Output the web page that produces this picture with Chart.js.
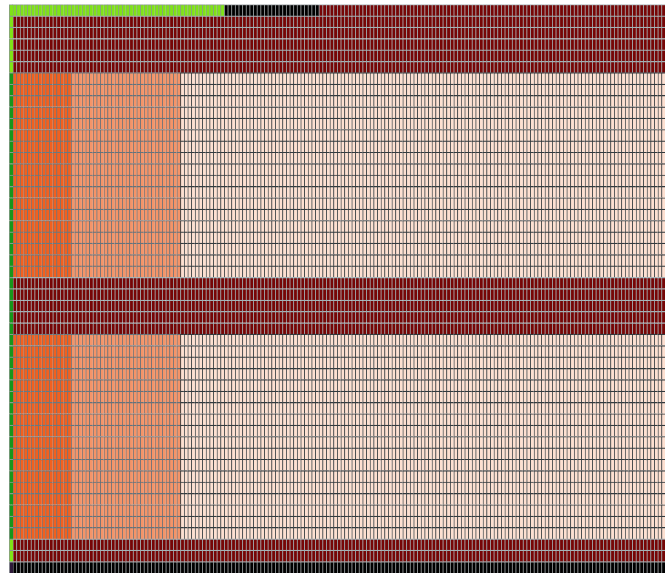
<!DOCTYPE html>
<html>
<head>
<meta charset="utf-8">
<script src="https://cdn.jsdelivr.net/npm/chart.js@4.4.1/dist/chart.umd.min.js"></script>
<style>
  html, body { margin:0; padding:0; background:#fff; }
  #wrap { width:665px; height:578px; }
</style>
</head>
<body>
<div id="wrap"><canvas id="grid"></canvas></div>
<script>
// --------- data: cell classes, run-length per row ---------
const NUM_COLS = 180;

// each row pattern = [class, run length]
const headerRow = [['lime',59],['black',26],['maroon',95]];
const topRow    = [['lime',1],['maroon',179]];
const bandRow   = [['green',1],['orange',16],['salmon',30],['peach',133]];
const midRow    = [['green',1],['maroon',179]];
const lowRow    = [['lime',1],['maroon',179]];
const lastRow   = [['plum',1],['black',179]];

// rows top -> bottom
const rowPatterns = [headerRow, topRow, bandRow, midRow, bandRow, lowRow, lastRow];
const rowRepeats  = [1, 5, 18, 5, 18, 2, 1];

// --------- styles ---------
const fillColors = {
    black:'#000000', lime:'#7fe317', green:'#17961a', maroon:'#760606',
    orange:'#f2601f', salmon:'#f59468', peach:'#fde0d1', plum:'#2e1a3a'
};
const lineColors = {
    black:'#9aa0a2', lime:'#8a9a8c', green:'#8a9a8c', maroon:'#a2b2b6',
    orange:'#6c787e', salmon:'#66727a', peach:'#323a3e', plum:'#9aa0a2'
};

// expand runs to a matrix of class names
const matrix = [];
rowPatterns.forEach((p,i)=>{
    for(let r=0;r<rowRepeats[i];r++){
        const row = [];
        p.forEach(([cls,n])=>{ for(let k=0;k<n;k++) row.push(cls); });
        matrix.push(row);
    }
});
const rowLabels = matrix.map((_,i)=>'r'+(i+1));

// one dataset per column, stacked horizontally; border on left/top so later cells don't cover it
const datasets = [];
for(let c=0;c<NUM_COLS;c++){
    datasets.push({
        data: matrix.map(()=>1),
        backgroundColor: matrix.map(row=>fillColors[row[c]]),
        borderColor: matrix.map(row=>lineColors[row[c]]),
        borderWidth: {top:1.2,left:1.2,right:0,bottom:0},
        borderSkipped: false,
        inflateAmount: 0.4,
        barPercentage: 1,
        categoryPercentage: 1
    });
}

new Chart(document.getElementById('grid'),{
    type:'bar',
    data:{ labels: rowLabels, datasets },
    options:{
        indexAxis:'y',
        responsive:true,
        maintainAspectRatio:false,
        animation:false,
        layout:{ padding:{ left:9, top:4.5, right:0, bottom:5 } },
        plugins:{ legend:{display:false}, tooltip:{enabled:false} },
        scales:{
            x:{ stacked:true, min:0, max:NUM_COLS, display:false },
            y:{ stacked:true, display:false }
        }
    }
});
</script>
</body>
</html>
